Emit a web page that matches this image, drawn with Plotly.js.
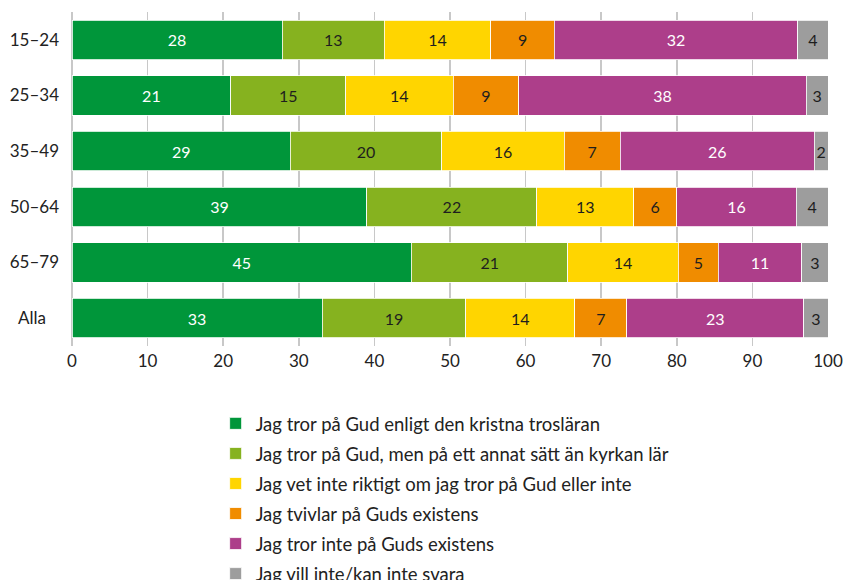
<!DOCTYPE html>
<html>
<head>
<meta charset="utf-8">
<script src="https://cdn.plot.ly/plotly-3.0.1.min.js"></script>
<style>html,body{margin:0;padding:0;background:#fff;}#chart{width:850px;height:580px;}</style>
</head>
<body>
<div id="chart"></div>
<script>
const categories = ['15–24', '25–34', '35–49', '50–64', '65–79', 'Alla'];
const categoryLabels = ['15–24', '25–34', '35–49', '50–64', '65–79', 'Alla\u00a0\u00a0\u00a0'];
const seriesNames = [
  'Jag tror på Gud enligt den kristna trosläran',
  'Jag tror på Gud, men på ett annat sätt än kyrkan lär',
  'Jag vet inte riktigt om jag tror på Gud eller inte',
  'Jag tvivlar på Guds existens',
  'Jag tror inte på Guds existens',
  'Jag vill inte/kan inte svara'
];
// estimated bar lengths (percent)
const kristen   = [27.8, 21.0, 28.9, 39.0, 44.9, 33.1];
const annatSatt = [13.5, 15.2, 20.0, 22.5, 20.7, 19.0];
const vetInte   = [14.1, 14.2, 16.2, 12.8, 14.6, 14.4];
const tvivlar   = [ 8.4,  8.7,  7.4,  5.7,  5.3,  6.9];
const trorInte  = [32.2, 38.0, 25.7, 15.8, 11.0, 23.4];
const vetEj     = [ 4.0,  2.9,  1.8,  4.2,  3.5,  3.2];
// printed labels
const kristenLbl   = [28, 21, 29, 39, 45, 33];
const annatSattLbl = [13, 15, 20, 22, 21, 19];
const vetInteLbl   = [14, 14, 16, 13, 14, 14];
const tvivlarLbl   = [9, 9, 7, 6, 5, 7];
const trorInteLbl  = [32, 38, 26, 16, 11, 23];
const vetEjLbl     = [4, 3, 2, 4, 3, 3];
const xTicks = [0, 10, 20, 30, 40, 50, 60, 70, 80, 90, 100];

const values = [kristen, annatSatt, vetInte, tvivlar, trorInte, vetEj];
const labels = [kristenLbl, annatSattLbl, vetInteLbl, tvivlarLbl, trorInteLbl, vetEjLbl];
const colors = ['#00963a', '#86b21f', '#ffd500', '#f08c00', '#ad3e8a', '#9d9d9d'];
const textColors = ['#ffffff', '#1e1e1e', '#1e1e1e', '#1e1e1e', '#ffffff', '#1e1e1e'];
const FONT = 'Lato, "Open Sans", sans-serif';

const traces = values.map((v, i) => ({
  type: 'bar',
  orientation: 'h',
  name: seriesNames[i],
  y: categories,
  x: v,
  text: labels[i].map(String),
  textposition: 'inside',
  insidetextanchor: 'middle',
  textangle: 0,
  constraintext: 'none',
  textfont: {family: FONT, size: 16, color: textColors[i]},
  marker: {color: colors[i], line: {color: '#ffffff', width: 0.8}},
  hoverinfo: 'none',
  legendgroup: 'g' + i
}));

const layout = {
  width: 850,
  height: 580,
  margin: {l: 72, r: 22, t: 12, b: 234},
  paper_bgcolor: '#ffffff',
  plot_bgcolor: '#ffffff',
  barmode: 'stack',
  bargap: 0.29,
  font: {family: FONT, color: '#222222'},
  xaxis: {
    range: [0, 100],
    tickvals: xTicks,
    ticktext: xTicks.map(String),
    showgrid: true,
    gridcolor: '#c8c8c8',
    gridwidth: 1.5,
    zeroline: true,
    zerolinecolor: '#c8c8c8',
    zerolinewidth: 1.5,
    showline: false,
    ticks: '',
    tickfont: {family: FONT, size: 17, color: '#222222'},
    ticklabelstandoff: 3,
    fixedrange: true
  },
  yaxis: {
    autorange: 'reversed',
    tickvals: categories,
    ticktext: categoryLabels,
    showgrid: false,
    zeroline: false,
    showline: false,
    ticks: '',
    tickfont: {family: FONT, size: 17, color: '#222222'},
    ticklabelstandoff: 12,
    fixedrange: true
  },
  showlegend: true,
  legend: {
    orientation: 'v',
    traceorder: 'grouped',
    tracegroupgap: 3,
    xref: 'paper',
    x: 0.19,
    xanchor: 'left',
    yref: 'container',
    y: 0.302,
    yanchor: 'top',
    font: {family: FONT, size: 18.5, color: '#222222'},
    bgcolor: 'rgba(0,0,0,0)'
  }
};

Plotly.newPlot('chart', traces, layout, {displayModeBar: false, staticPlot: true});
</script>
</body>
</html>
